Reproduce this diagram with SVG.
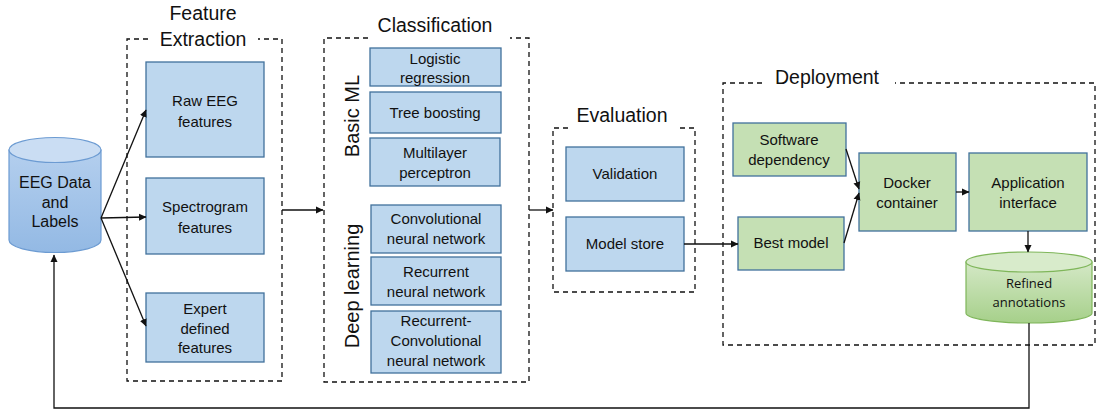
<svg xmlns="http://www.w3.org/2000/svg" width="1097" height="412" viewBox="0 0 1097 412">
<style>
text{font-family:"Liberation Sans",Arial,sans-serif;fill:#111;text-anchor:middle}
.t{font-size:15px}
.h{font-size:19.5px}
.r{font-size:20px}
.bx{fill:#BDD7EE;stroke:#41719C;stroke-width:1.3}
.gx{fill:#C5E0B4;stroke:#41719C;stroke-width:1.3}
.dash{fill:none;stroke:#111;stroke-width:1.3;stroke-dasharray:5,4}
.c{fill:none;stroke:#111;stroke-width:1.3}
</style>
<defs>
<marker id="ah" markerWidth="8" markerHeight="8" refX="7" refY="4" orient="auto" markerUnits="userSpaceOnUse">
<path d="M0,0.5 L7.5,4 L0,7.5 Z" fill="#111"/>
</marker>
<linearGradient id="bg" x1="0" y1="0" x2="0" y2="1">
<stop offset="0" stop-color="#B4CFEE"/><stop offset="1" stop-color="#93B9E4"/>
</linearGradient>
<linearGradient id="gg" x1="0" y1="0" x2="0" y2="1">
<stop offset="0" stop-color="#D4E8C6"/><stop offset="1" stop-color="#A6D08A"/>
</linearGradient>
</defs>
<rect width="1097" height="412" fill="#fff"/>

<g id="containers">
<path class="dash" d="M148,39 H127 V381 H282 V39 H258"/>
<text class="h" x="203" y="20">Feature</text>
<text class="h" x="203" y="46">Extraction</text>
<path class="dash" d="M368,38 H324 V382 H529 V38 H510"/>
<text class="h" x="435" y="32">Classification</text>
<path class="dash" d="M568,128 H553 V292 H695 V128 H678"/>
<text class="h" x="622" y="122">Evaluation</text>
<path class="dash" d="M762,83 H723 V345 H1095 V83 H895"/>
<text class="h" x="827" y="84">Deployment</text>
<text class="r" transform="translate(359,116) rotate(-90)">Basic ML</text>
<text class="r" transform="translate(359,286) rotate(-90)">Deep learning</text>
</g>

<g id="eeg">
<path d="M9,150 V240 A46,12.5 0 0 0 101,240 V150 Z" fill="url(#bg)" stroke="#6C9BD2" stroke-width="1.2"/>
<ellipse cx="55" cy="150" rx="46" ry="12.5" fill="#CADDF3" stroke="#6C9BD2" stroke-width="1.2"/>
<text x="55" y="188" style="font-size:16px">EEG Data</text>
<text x="55" y="208" style="font-size:16px">and</text>
<text x="55" y="227" style="font-size:16px">Labels</text>
</g>

<g id="raw"><rect class="bx" x="146" y="62" width="118" height="95"/><text class="t" x="205" y="106">Raw EEG</text><text class="t" x="205" y="127">features</text></g>
<g id="spec"><rect class="bx" x="146" y="178" width="118" height="76"/><text class="t" x="205" y="212">Spectrogram</text><text class="t" x="205" y="233">features</text></g>
<g id="expert"><rect class="bx" x="146" y="293" width="118" height="69"/><text class="t" x="205" y="314">Expert</text><text class="t" x="205" y="334">defined</text><text class="t" x="205" y="353">features</text></g>

<g id="logreg"><rect class="bx" x="370" y="48" width="131" height="38"/><text class="t" x="435" y="64">Logistic</text><text class="t" x="435" y="83">regression</text></g>
<g id="tree"><rect class="bx" x="370" y="92" width="131" height="41"/><text class="t" x="435" y="118">Tree boosting</text></g>
<g id="mlp"><rect class="bx" x="370" y="138" width="130" height="48"/><text class="t" x="435" y="158">Multilayer</text><text class="t" x="435" y="178">perceptron</text></g>
<g id="cnn"><rect class="bx" x="371" y="205" width="130" height="48"/><text class="t" x="436" y="224">Convolutional</text><text class="t" x="436" y="244">neural network</text></g>
<g id="rnn"><rect class="bx" x="371" y="257" width="130" height="48"/><text class="t" x="436" y="277">Recurrent</text><text class="t" x="436" y="297">neural network</text></g>
<g id="rcnn"><rect class="bx" x="371" y="311" width="130" height="62"/><text class="t" x="436" y="326">Recurrent-</text><text class="t" x="436" y="346">Convolutional</text><text class="t" x="436" y="366">neural network</text></g>

<g id="validation"><rect class="bx" x="566" y="147" width="118" height="54"/><text class="t" x="625" y="179">Validation</text></g>
<g id="modelstore"><rect class="bx" x="566" y="217" width="118" height="54"/><text class="t" x="625" y="249">Model store</text></g>

<g id="software"><rect class="gx" x="733" y="123" width="113" height="53"/><text class="t" x="789" y="145">Software</text><text class="t" x="789" y="165">dependency</text></g>
<g id="best"><rect class="gx" x="738" y="217" width="106" height="53"/><text class="t" x="791" y="248">Best model</text></g>
<g id="docker"><rect class="gx" x="859" y="153" width="97" height="78"/><text class="t" x="907" y="188">Docker</text><text class="t" x="907" y="208">container</text></g>
<g id="app"><rect class="gx" x="969" y="153" width="118" height="78"/><text class="t" x="1028" y="188">Application</text><text class="t" x="1028" y="208">interface</text></g>
<g id="refined">
<path d="M966,262 V313 A63,10 0 0 0 1092,313 V262 Z" fill="url(#gg)" stroke="#7FB65A" stroke-width="1.2"/>
<ellipse cx="1029" cy="262" rx="63" ry="10" fill="#D8EBCB" stroke="#7FB65A" stroke-width="1.2"/>
<text x="1029" y="288" style="font-size:13px;font-family:'Open Sans','Liberation Sans',sans-serif">Refined</text>
<text x="1029" y="307" style="font-size:13px;font-family:'Open Sans','Liberation Sans',sans-serif">annotations</text>
</g>

<g id="connectors">
<line class="c" x1="101" y1="218" x2="146" y2="110" marker-end="url(#ah)"/>
<line class="c" x1="101" y1="218" x2="146" y2="217" marker-end="url(#ah)"/>
<line class="c" x1="101" y1="218" x2="146" y2="326" marker-end="url(#ah)"/>
<line class="c" x1="282" y1="210" x2="323" y2="210" marker-end="url(#ah)"/>
<line class="c" x1="529" y1="210" x2="553" y2="210" marker-end="url(#ah)"/>
<line class="c" x1="684" y1="244" x2="738" y2="244" marker-end="url(#ah)"/>
<line class="c" x1="846" y1="149" x2="859" y2="189" marker-end="url(#ah)"/>
<line class="c" x1="844" y1="243" x2="859" y2="193" marker-end="url(#ah)"/>
<line class="c" x1="956" y1="192" x2="969" y2="192" marker-end="url(#ah)"/>
<line class="c" x1="1028" y1="231" x2="1028" y2="252" marker-end="url(#ah)"/>
<polyline class="c" points="1029,323 1029,408 54,408 54,255" marker-end="url(#ah)"/>
</g>
</svg>
